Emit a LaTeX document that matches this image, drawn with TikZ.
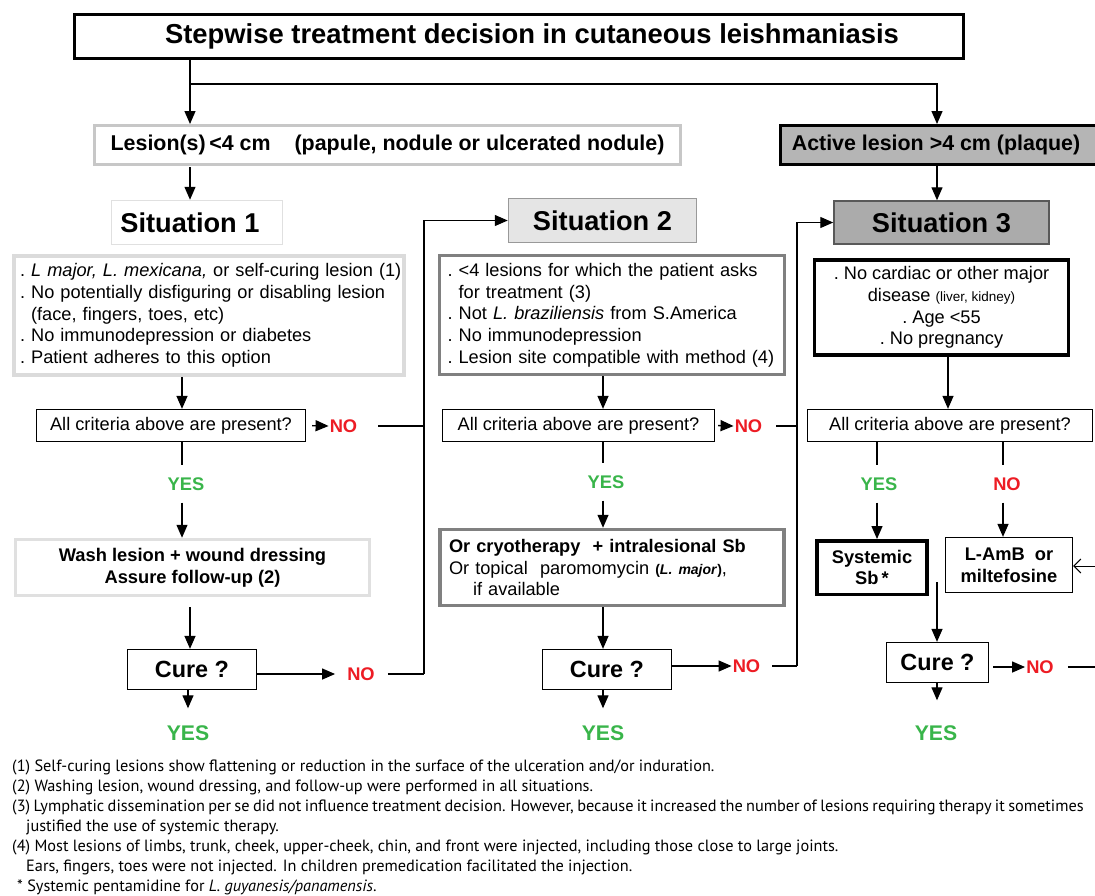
\documentclass[tikz,border=0pt]{standalone}
\usepackage{fontspec}
\setmainfont{Liberation Sans}
\newfontfamily\notefont{PT Sans}
\usetikzlibrary{arrows.meta}
\definecolor{yesgreen}{RGB}{57,181,74}
\definecolor{nored}{RGB}{237,28,36}
\tikzset{
 conn/.style={line width=1.3pt},
 arr/.style={conn,-{Triangle[width=11pt,length=13pt]}},
 oarr/.style={line width=1pt,-{Straight Barb[length=7pt,width=14pt]}},
 box/.style={draw,line width=1.3pt,inner sep=0pt,align=center},
 fbody/.style={font={\fontsize{18.2}{21.7}\selectfont}},
 fbold/.style={font={\fontsize{18.3}{21.7}\selectfont\bfseries}},
 fsit/.style={font={\fontsize{27.2}{30}\selectfont\bfseries}},
 fcure/.style={font={\fontsize{23.4}{26}\selectfont\bfseries}},
 yesS/.style={text=yesgreen,font={\fontsize{18.3}{20}\selectfont\bfseries},inner xsep=1pt,inner ysep=12pt},
 noV/.style={text=nored,font={\fontsize{18.3}{20}\selectfont\bfseries},inner xsep=1pt,inner ysep=12pt},
 yesL/.style={text=yesgreen,font={\fontsize{21.2}{24}\selectfont\bfseries},inner xsep=1pt,inner ysep=17pt},
 noS/.style={text=nored,font={\fontsize{18.3}{20}\selectfont\bfseries},inner sep=1pt},
 fnote/.style={font={\notefont\fontsize{16.3}{20}\selectfont},anchor=base west,inner sep=0pt},
}
\begin{document}
\begin{tikzpicture}[x=1pt,y=-1pt]
\useasboundingbox (0,0) rectangle (1095,895);
\clip (0,0) rectangle (1095,895);
\fill[white] (0,0) rectangle (1095,895);

% coordinates
\coordinate (cA) at (190,84);
\coordinate (cR) at (937,84);
\coordinate (colA) at (182,0);
\coordinate (colB) at (190,0);
\coordinate (colC) at (188,0);
\coordinate (colD) at (603,0);
\coordinate (colE) at (948,0);
\coordinate (colY3) at (877,0);
\coordinate (colN3) at (1003,0);
\coordinate (colF) at (937,0);
\coordinate (cV1) at (424,674);
\coordinate (cV2) at (797,666);
\coordinate (m3) at (937,582);
\coordinate (eR1) at (1100,566);
\coordinate (eR2) at (1100,667);

% top
\node[box,line width=3.5pt,minimum width=889,minimum height=44,font={\fontsize{27.4}{30}\selectfont\bfseries}] (T) at (519,36.5) {\hspace*{26pt}Stepwise treatment decision in cutaneous leishmaniasis};
\node[box,draw=black!22,line width=3pt,minimum width=586,minimum height=39,font={\fontsize{21.4}{24}\selectfont\bfseries}] (L) at (387.5,145) {Lesion(s)\,<4 cm\hspace{24pt}(papule, nodule or ulcerated nodule)};
\node[box,fill=black!29,line width=3pt,minimum width=322,minimum height=39,font={\fontsize{21.4}{24}\selectfont\bfseries}] (A) at (941,145) {\hspace*{-10pt}Active lesion >4 cm (plaque)};

% situation 1
\node[box,draw=black!12,line width=1.5pt,minimum width=171,minimum height=44,fsit] (S1) at (197,222.5) {\hspace*{-14pt}Situation 1};
\node[box,draw=black!14,line width=3.5pt,align=left,text width=378,inner xsep=6pt,minimum height=119,fbody] (K1) at (209,315.5) {\mbox{.\ \textit{L major, L. mexicana,} or self-curing lesion (1)}\\
.\ No potentially disfiguring or disabling lesion\\
\hphantom{.\ }(face, fingers, toes, etc)\\
.\ No immunodepression or diabetes\\
.\ Patient adheres to this option};
\node[box,minimum width=269,minimum height=32,fbody] (Q1) at (171,425.5) {All criteria above are present?};
\node[noS] (N1) at (343.5,426) {NO};
\node[yesS] (Y1) at (186,484) {YES};
\node[box,draw=black!12,line width=3.5pt,minimum width=354,minimum height=56,fbold] (W) at (192.5,567.5) {Wash lesion + wound dressing\\Assure follow-up (2)};
\node[box,minimum width=129,minimum height=40,fcure] (Cu1) at (192,669.5) {Cure ?};
\node[noS] (NC1) at (361,674) {NO};
\node[yesL] (YB1) at (188,733) {YES};

% situation 2
\node[box,fill=black!10,draw=black!40,line width=1.5pt,minimum width=188,minimum height=44,fsit] (S2) at (602.5,220.5) {Situation 2};
\node[box,draw=black!50,line width=3.5pt,align=left,text width=329,inner xsep=8pt,minimum height=119,fbody] (K2) at (612,315) {.\ <4 lesions for which the patient asks\\
\hphantom{.\ }for treatment (3)\\
.\ Not \textit{L. braziliensis} from S.America\\
.\ No immunodepression\\
.\ Lesion site compatible with method (4)};
\node[box,minimum width=272,minimum height=32,fbody] (Q2) at (578.5,425.5) {All criteria above are present?};
\node[noS] (N2) at (748.5,426) {NO};
\node[yesS] (Y2) at (606,482) {YES};
\node[box,draw=black!50,line width=3.5pt,align=left,text width=326,inner xsep=9pt,minimum height=76,fbody] (Tr2) at (612,567.5) {\textbf{Or cryotherapy\ \ + intralesional Sb}\\
Or topical\ \ paromomycin {\fontsize{14}{16}\selectfont\bfseries(\textit{L. major})},\\
\hspace*{24pt}if available};
\node[box,minimum width=129,minimum height=40,fcure] (Cu2) at (607,669.5) {Cure ?};
\node[noS] (NC2) at (746.5,666) {NO};
\node[yesL] (YB2) at (603,733) {YES};

% situation 3
\node[box,fill=black!33,draw=black!65,line width=1.5pt,minimum width=215,minimum height=43,fsit] (S3) at (941.5,222.5) {Situation 3};
\node[box,line width=3.5pt,minimum width=254,minimum height=95,fbody] (K3) at (941.5,307.5) {.\ No cardiac or other major\\disease {\fontsize{13.5}{16}\selectfont(liver, kidney)}\\.\ Age <55\\.\ No pregnancy};
\node[box,minimum width=285,minimum height=32,fbody] (Q3) at (950,425.5) {All criteria above are present?};
\node[yesS] (Y3) at (879,484) {YES};
\node[noV] (N3) at (1007,484) {NO};
\node[box,line width=3.5pt,minimum width=110,minimum height=53.5,fbold] (Sys) at (872,567.5) {Systemic\\Sb\,*};
\node[box,minimum width=127,minimum height=55,fbold] (Lamb) at (1009,565) {L-AmB\ \ or\\miltefosine};
\node[box,minimum width=102,minimum height=40,fcure] (Cu3) at (937.5,662.5) {Cure ?};
\node[noS] (NC3) at (1040,667) {NO};
\node[yesL] (YB3) at (936,733) {YES};

% connectors: top
\draw[arr] (T.south -| cA) -- (L.north -| cA);
\draw[arr] (cA) -| (A.north -| cR);
\draw[arr,shorten <=1pt] (L.south -| cA) -- (S1.north -| cA);

% connectors: situation 1
\draw[arr] (K1.south -| colA) -- (Q1.north -| colA);
\draw[arr,shorten <=6pt] (Q1.east) -- (N1.west);
\draw[conn] ([xshift=20pt]N1.east) -- (N1.east -| cV1);
\draw[conn] (Q1.south -| colA) -- (Y1.north -| colA);
\draw[arr] (Y1.south -| colA) -- (W.north -| colA);
\draw[arr,shorten <=10pt] (W.south -| colB) -- (Cu1.north -| colB);
\draw[arr,shorten >=11pt] (Cu1.east |- NC1) -- (NC1.west);
\draw[conn] ([xshift=12pt]NC1.east) -- (cV1);
\draw[arr] (cV1) |- (S2.west);
\draw[arr] (Cu1.south -| colC) -- (YB1.north -| colC);

% connectors: situation 2
\draw[arr] (K2.south -| colD) -- (Q2.north -| colD);
\draw[arr,shorten <=3pt] (Q2.east) -- (N2.west);
\draw[conn] ([xshift=13pt]N2.east) -- (N2.east -| cV2);
\draw[conn] (Q2.south -| colD) -- (Y2.north -| colD);
\draw[arr] (Y2.south -| colD) -- (Tr2.north -| colD);
\draw[arr] (Tr2.south -| colD) -- (Cu2.north -| colD);
\draw[arr] (Cu2.east |- NC2) -- (NC2.west);
\draw[conn] ([xshift=11pt]NC2.east) -- (cV2);
\draw[arr] (cV2) |- (S3.west);
\draw[arr] (Cu2.south -| colD) -- (YB2.north -| colD);

% connectors: situation 3
\draw[arr] (A.south -| cR) -- (S3.north -| cR);
\draw[arr] (K3.south -| colE) -- (Q3.north -| colE);
\draw[conn] (Q3.south -| colY3) -- (Y3.north -| colY3);
\draw[arr] (Y3.south -| colY3) -- (Sys.north -| colY3);
\draw[conn] (Q3.south -| colN3) -- (N3.north -| colN3);
\draw[arr] (N3.south -| colN3) -- (Lamb.north -| colN3);
\draw[arr] (m3) -- (Cu3.north -| m3);
\draw[arr,shorten <=4pt] (Cu3.east |- NC3) -- (NC3.west);
\draw[conn] ([xshift=13pt]NC3.east) -- (eR2);
\draw[oarr] (eR1) -- (Lamb.east |- eR1);
\draw[arr,shorten >=8pt] (Cu3.south -| colF) -- (YB3.north -| colF);

% footnotes
\node[fnote] (f1) at (12,771) {(1) Self-curing lesions show flattening or reduction in the surface of the ulceration and/or induration.};
\node[fnote] (f2) at (12,791) {(2) Washing lesion, wound dressing, and follow-up were performed in all situations.};
\node[fnote] (f3) at (12,811) {\spaceskip=3.4pt (3) Lymphatic dissemination per se did not influence treatment decision. However, because it increased the number of lesions requiring therapy it sometimes};
\node[fnote] (f4) at (26,831) {justified the use of systemic therapy.};
\node[fnote] (f5) at (12,851) {(4) Most lesions of limbs, trunk, cheek, upper-cheek, chin, and front were injected, including those close to large joints.};
\node[fnote] (f6) at (26,871) {Ears, fingers, toes were not injected. In children premedication facilitated the injection.};
\node[fnote] (f7) at (17,891) {* Systemic pentamidine for \textit{L. guyanesis/panamensis}.};
\end{tikzpicture}
\end{document}
